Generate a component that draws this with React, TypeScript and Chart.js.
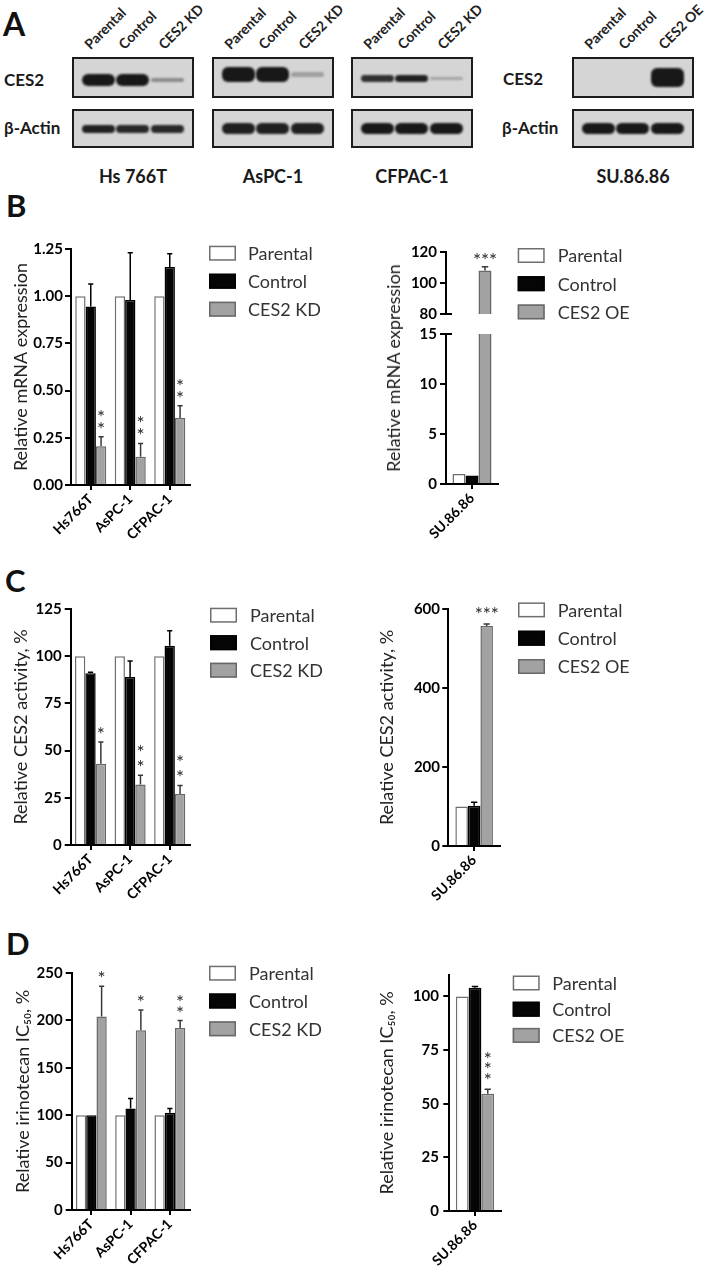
import React, { useEffect, useRef } from 'react';
import { Chart, registerables } from 'chart.js';

Chart.register(...registerables);

const FONT = "Lato, 'Open Sans', 'DejaVu Sans', sans-serif";

// ---------------- data ----------------
const kdLines = ['Hs766T', 'AsPC-1', 'CFPAC-1'];
const oeLine = ['SU.86.86'];
const kdSeriesNames = ['Parental', 'Control', 'CES2 KD'];
const oeSeriesNames = ['Parental', 'Control', 'CES2 OE'];

// B: relative mRNA expression
const mrnaKdParental = [1.0, 1.0, 1.0];
const mrnaKdControl = [0.945, 0.98, 1.155];
const mrnaKdControlErr = [0.12, 0.25, 0.07];
const mrnaKdKd = [0.205, 0.15, 0.355];
const mrnaKdKdErr = [0.05, 0.07, 0.065];
const mrnaKdSig = ['**', '**', '**'];
const mrnaKdTicks = [0, 0.25, 0.5, 0.75, 1.0, 1.25];

const mrnaOeParental = [1.0];
const mrnaOeControl = [0.85];
const mrnaOeOe = [108];
const mrnaOeOeErr = [2.5];
const mrnaOeSig = ['***'];
const mrnaOeLowTicks = [0, 5, 10, 15];
const mrnaOeHighTicks = [80, 100, 120];

// C: relative CES2 activity, %
const actKdParental = [100, 100, 100];
const actKdControl = [91, 89, 105.5];
const actKdControlErr = [0.5, 8.5, 8];
const actKdKd = [43, 32, 27];
const actKdKdErr = [11.5, 5, 4.5];
const actKdSig = ['*', '**', '**'];
const actKdTicks = [0, 25, 50, 75, 100, 125];

const actOeParental = [100];
const actOeControl = [102];
const actOeControlErr = [9];
const actOeOe = [557];
const actOeOeErr = [5];
const actOeSig = ['***'];
const actOeTicks = [0, 200, 400, 600];

// D: relative irinotecan IC50, %
const icKdParental = [100, 100, 100];
const icKdControl = [100, 107, 102.5];
const icKdControlErr = [0, 10.5, 4.5];
const icKdKd = [204, 189.5, 192];
const icKdKdErr = [32, 21.5, 8];
const icKdSig = ['*', '*', '**'];
const icKdTicks = [0, 50, 100, 150, 200, 250];

const icOeParental = [100];
const icOeControl = [104];
const icOeControlErr = [0.6];
const icOeOe = [54.7];
const icOeOeErr = [2];
const icOeSig = ['***'];
const icOeTicks = [0, 25, 50, 75, 100];

// A: western blots (band intensities per lane)
const blotLines = ['Hs 766T', 'AsPC-1', 'CFPAC-1', 'SU.86.86'];
const blotLanes = [kdSeriesNames, kdSeriesNames, kdSeriesNames, oeSeriesNames];
const ces2Band = [
  [1, 1, 0.3],
  [1, 1, 0.18],
  [0.85, 0.95, 0.15],
  [0, 0, 1],
];
const actinBand = [
  [0.95, 0.9, 0.9],
  [0.95, 0.95, 0.95],
  [1, 1, 1],
  [1, 1, 1],
];

// ---------------- styles / layout ----------------
const SERIES_STYLE = [
  { bg: '#ffffff', border: '#6f6f6f', err: '#555555' },
  { bg: '#050505', border: '#000000', err: '#000000' },
  { bg: '#a2a2a2', border: '#686868', err: '#3a3a3a' },
];

const annotPlugin = {
  id: 'annot',
  afterDatasetsDraw(chart: any, _args: any, opts: any) {
    const ctx = chart.ctx as CanvasRenderingContext2D;
    const ys = chart.scales.y;
    const ca = chart.chartArea;
    const star = opts.star;
    chart.data.datasets.forEach((ds: any, di: number) => {
      const meta = chart.getDatasetMeta(di);
      const errs: number[] = ds.errors || [];
      const sigs: string[] = ds.sig || [];
      meta.data.forEach((bar: any, j: number) => {
        const v = ds.data[j];
        if (v === null || v === undefined) return;
        const e = errs[j] || 0;
        const topVal = v + e;
        if (topVal > ys.max + 1e-9) return;
        const x = bar.x;
        const yv = ys.getPixelForValue(v);
        const ye = ys.getPixelForValue(topVal);
        if (e > 0) {
          ctx.save();
          ctx.strokeStyle = ds.errColor;
          ctx.lineWidth = 1.5;
          ctx.beginPath();
          ctx.moveTo(x, yv);
          ctx.lineTo(x, ye);
          const cw = bar.width * 0.25;
          ctx.moveTo(x - cw, ye);
          ctx.lineTo(x + cw, ye);
          ctx.stroke();
          ctx.restore();
        }
        const s = sigs[j];
        if (s && star) {
          const size = 19;
          ctx.save();
          ctx.fillStyle = '#2a2a2a';
          ctx.font = `${size}px ${FONT}`;
          ctx.textAlign = 'center';
          ctx.textBaseline = 'alphabetic';
          const lift = 0.56 * size;
          const n = s.length;
          for (let k = 0; k < n; k++) {
            if (star.mode === 'v') {
              const cy = ye - star.off - k * star.gap;
              ctx.fillText('*', x, cy + lift);
            } else {
              const cx = x + (k - (n - 1) / 2) * star.gap;
              ctx.fillText('*', cx, ye - star.off + lift);
            }
          }
          ctx.restore();
        }
      });
    });
    const bs = opts.breakStub;
    if (bs) {
      ctx.save();
      ctx.strokeStyle = '#000';
      ctx.lineWidth = 2;
      ctx.beginPath();
      const yy = bs === 'top' ? ca.top : ca.bottom;
      ctx.moveTo(ca.left - 1, yy);
      ctx.lineTo(ca.left + 6, yy);
      ctx.stroke();
      ctx.restore();
    }
    const lg = opts.legend;
    if (lg) {
      ctx.save();
      const bw = 27;
      const bh = 15;
      chart.data.datasets.forEach((ds: any, i: number) => {
        const bx = ca.right + lg.dx;
        const by = ca.top + lg.dy + i * lg.spacing;
        ctx.fillStyle = ds.backgroundColor;
        ctx.fillRect(bx, by, bw, bh);
        ctx.strokeStyle = ds.borderColor;
        ctx.lineWidth = 1.5;
        ctx.strokeRect(bx + 0.75, by + 0.75, bw - 1.5, bh - 1.5);
        ctx.fillStyle = '#333';
        ctx.font = `18px ${FONT}`;
        ctx.textAlign = 'left';
        ctx.textBaseline = 'middle';
        ctx.fillText(ds.label, bx + lg.textDx, by + bh / 2 + 1);
      });
      ctx.restore();
    }
  },
};
Chart.register(annotPlugin as any);

type Legend = { dx: number; dy: number; spacing: number; textDx: number };
type Star = { mode: 'v' | 'h'; off: number; gap: number };
type PanelCfg = {
  left: number; top: number; width: number; height: number;
  yW: number; xH: number; padTop: number; padRight: number; padBottom: number;
  labels: string[]; names: string[];
  vals: number[][]; errs: (number[] | null)[]; sigs: (string[] | null)[];
  yMin: number; yMax: number; yTicks: number[]; decimals: number;
  yTitle?: string; titlePad?: number; tickPad: number; catPct: number;
  showX: boolean; legend?: Legend; star?: Star; breakStub?: 'top' | 'bottom';
  hideBelowMin?: boolean; clipArea?: boolean;
};

function buildConfig(p: PanelCfg): any {
  const datasets = p.names.map((name, i) => {
    const st = SERIES_STYLE[i];
    const data = p.vals[i].map((v) => (p.hideBelowMin && v < p.yMin ? null : v));
    const ds: any = {
      label: name,
      data,
      backgroundColor: st.bg,
      borderColor: st.border,
      borderWidth: 1.5,
      categoryPercentage: p.catPct,
      barPercentage: 1,
      errors: p.errs[i] || [],
      sig: p.sigs[i] || [],
      errColor: st.err,
    };
    if (p.clipArea) ds.clip = 0;
    return ds;
  });
  const tickFont = { family: FONT, size: 15, weight: 'bold' as const };
  return {
    type: 'bar',
    data: { labels: p.labels, datasets },
    options: {
      animation: false,
      responsive: false,
      events: [],
      layout: { padding: { left: 0, top: p.padTop, right: p.padRight, bottom: p.padBottom } },
      plugins: {
        legend: { display: false },
        tooltip: { enabled: false },
        annot: { legend: p.legend || null, star: p.star || null, breakStub: p.breakStub || null },
      },
      scales: {
        x: {
          type: 'category',
          display: p.showX,
          offset: true,
          grid: { display: true, offset: false, drawOnChartArea: false, drawTicks: true, tickLength: 5, color: '#000', lineWidth: 2 },
          border: { display: true, color: '#000', width: 2 },
          ticks: { autoSkip: false, maxRotation: 45, minRotation: 45, padding: 1, color: '#000', font: { family: FONT, size: 14, weight: 'bold' } },
          afterFit: (s: any) => { s.height = p.xH; },
        },
        y: {
          type: 'linear',
          min: p.yMin,
          max: p.yMax,
          afterBuildTicks: (s: any) => { s.ticks = p.yTicks.map((v) => ({ value: v })); },
          ticks: { padding: p.tickPad, color: '#000', font: tickFont, callback: (v: any) => Number(v).toFixed(p.decimals) },
          grid: { display: true, drawOnChartArea: false, drawTicks: true, tickLength: 6, color: '#000', lineWidth: 2 },
          border: { display: true, color: '#000', width: 2 },
          title: p.yTitle
            ? { display: true, text: p.yTitle, color: '#222', font: { family: FONT, size: 18 }, padding: { top: p.titlePad || 0, bottom: 0 } }
            : { display: false },
          afterFit: (s: any) => { s.width = p.yW; },
        },
      },
    },
  };
}

function BarPanel({ cfg }: { cfg: PanelCfg }) {
  const ref = useRef<HTMLCanvasElement>(null);
  useEffect(() => {
    const chart = new Chart(ref.current as HTMLCanvasElement, buildConfig(cfg));
    return () => chart.destroy();
  }, []);
  return (
    <canvas
      ref={ref}
      width={cfg.width}
      height={cfg.height}
      style={{ position: 'absolute', left: cfg.left, top: cfg.top, width: cfg.width, height: cfg.height }}
    />
  );
}

const panels: PanelCfg[] = [
  // B left
  {
    left: 0, top: 229, width: 350, height: 326, yW: 71, xH: 70, padTop: 20, padRight: 160.5, padBottom: 0,
    labels: kdLines, names: kdSeriesNames,
    vals: [mrnaKdParental, mrnaKdControl, mrnaKdKd], errs: [null, mrnaKdControlErr, mrnaKdKdErr], sigs: [null, null, mrnaKdSig],
    yMin: 0, yMax: 1.25, yTicks: mrnaKdTicks, decimals: 2, yTitle: 'Relative mRNA expression', titlePad: 10.2, tickPad: 2,
    catPct: 0.785, showX: true, legend: { dx: 19.5, dy: -3.3, spacing: 28, textDx: 39 }, star: { mode: 'v', off: 11.7, gap: 12 },
  },
  // B right, upper segment
  {
    left: 360, top: 231.7, width: 347, height: 94, yW: 86, xH: 0, padTop: 20, padRight: 209, padBottom: 10,
    labels: oeLine, names: oeSeriesNames,
    vals: [mrnaOeParental, mrnaOeControl, mrnaOeOe], errs: [null, null, mrnaOeOeErr], sigs: [null, null, mrnaOeSig],
    yMin: 80, yMax: 120, yTicks: mrnaOeHighTicks, decimals: 0, tickPad: 3,
    catPct: 0.75, showX: false, legend: { dx: 19.7, dy: -4, spacing: 28.2, textDx: 40 }, star: { mode: 'h', off: 10.6, gap: 8 },
    breakStub: 'bottom', hideBelowMin: true,
  },
  // B right, lower segment
  {
    left: 360, top: 322, width: 347, height: 232, yW: 86, xH: 70, padTop: 12, padRight: 209, padBottom: 0,
    labels: oeLine, names: oeSeriesNames,
    vals: [mrnaOeParental, mrnaOeControl, mrnaOeOe], errs: [null, null, mrnaOeOeErr], sigs: [null, null, mrnaOeSig],
    yMin: 0, yMax: 15, yTicks: mrnaOeLowTicks, decimals: 0, tickPad: 3,
    catPct: 0.75, showX: true, star: { mode: 'h', off: 10.6, gap: 8 }, breakStub: 'top', clipArea: true,
  },
  // C left
  {
    left: 0, top: 589.3, width: 350, height: 326, yW: 70.7, xH: 70, padTop: 20, padRight: 160.5, padBottom: 0,
    labels: kdLines, names: kdSeriesNames,
    vals: [actKdParental, actKdControl, actKdKd], errs: [null, actKdControlErr, actKdKdErr], sigs: [null, null, actKdSig],
    yMin: 0, yMax: 125, yTicks: actKdTicks, decimals: 0, yTitle: 'Relative CES2 activity, %', titlePad: 10.2, tickPad: 3,
    catPct: 0.785, showX: true, legend: { dx: 20.5, dy: -1.3, spacing: 27.5, textDx: 40 }, star: { mode: 'v', off: 12, gap: 15 },
  },
  // C right
  {
    left: 360, top: 589.3, width: 347, height: 327, yW: 88.3, xH: 70, padTop: 20, padRight: 207, padBottom: 0,
    labels: oeLine, names: oeSeriesNames,
    vals: [actOeParental, actOeControl, actOeOe], errs: [null, actOeControlErr, actOeOeErr], sigs: [null, null, actOeSig],
    yMin: 0, yMax: 600, yTicks: actOeTicks, decimals: 0, yTitle: 'Relative CES2 activity, %', titlePad: 15.9, tickPad: 2.3,
    catPct: 0.727, showX: true, legend: { dx: 18, dy: -6.6, spacing: 28.3, textDx: 39.7 }, star: { mode: 'h', off: 14, gap: 8 },
  },
  // D left
  {
    left: 0, top: 953.3, width: 350, height: 323, yW: 71.7, xH: 66, padTop: 20, padRight: 160.5, padBottom: 0,
    labels: kdLines, names: kdSeriesNames,
    vals: [icKdParental, icKdControl, icKdKd], errs: [null, icKdControlErr, icKdKdErr], sigs: [null, null, icKdSig],
    yMin: 0, yMax: 250, yTicks: icKdTicks, decimals: 0, yTitle: 'Relative irinotecan IC₅₀, %', titlePad: 12.2, tickPad: 3,
    catPct: 0.785, showX: true, legend: { dx: 19.5, dy: -7.3, spacing: 27.8, textDx: 40 }, star: { mode: 'v', off: 11.5, gap: 11 },
  },
  // D right
  {
    left: 360, top: 954.5, width: 347, height: 322, yW: 89.3, xH: 66, padTop: 20, padRight: 206.3, padBottom: 0,
    labels: oeLine, names: oeSeriesNames,
    vals: [icOeParental, icOeControl, icOeOe], errs: [null, icOeControlErr, icOeOeErr], sigs: [null, null, icOeSig],
    yMin: 0, yMax: 110, yTicks: icOeTicks, decimals: 0, yTitle: 'Relative irinotecan IC₅₀, %', titlePad: 15.9, tickPad: 4.3,
    catPct: 0.745, showX: true, legend: { dx: 12, dy: 0.5, spacing: 26.2, textDx: 39.6 }, star: { mode: 'v', off: 13, gap: 10.5 },
  },
];

// blot layout
const blotBoxX = [72, 212, 351, 572];
const BLOT_W = 122;
const CES2_TOP = 57;
const CES2_H = 41;
const ACT_TOP = 109;
const ACT_H = 39;
const laneRel = [26, 60, 95];
const labelRel = [18.5, 52.5, 93];
const ces2BandY = [23, 17.5, 21.5, 20.5];
const ces2BandH = [12, 15, 8, 19];
const actBandY = [20, 19.5, 19, 19.5];
const actBandH = [9, 11, 11, 11];
const BAND_W = 33;

function Band({ cx, cy, h, a }: { cx: number; cy: number; h: number; a: number }) {
  if (a <= 0) return null;
  const hh = h * Math.max(0.35, a);
  const alpha = 0.12 + 0.85 * a;
  return (
    <div
      style={{
        position: 'absolute',
        left: cx - BAND_W / 2 - 2,
        top: cy - hh / 2 - 2,
        width: BAND_W,
        height: hh,
        borderRadius: Math.min(6, hh / 2),
        background: `rgba(18,18,18,${alpha})`,
        filter: 'blur(1.1px)',
      }}
    />
  );
}

const labelStyle: React.CSSProperties = {
  position: 'absolute',
  font: `bold 17px ${FONT}`,
  lineHeight: '20.4px',
  color: '#1a1a1a',
  whiteSpace: 'nowrap',
};

function Blots() {
  return (
    <>
      <div style={{ ...labelStyle, left: 4, top: 70.4 }}>CES2</div>
      <div style={{ ...labelStyle, left: 4, top: 118.4 }}>β-Actin</div>
      <div style={{ ...labelStyle, left: 503, top: 69.4 }}>CES2</div>
      <div style={{ ...labelStyle, left: 502, top: 118.4 }}>β-Actin</div>
      {blotLines.map((name, b) => {
        const x0 = blotBoxX[b];
        return (
          <React.Fragment key={b}>
            {blotLanes[b].map((lane, l) => (
              <div
                key={'lab' + l}
                style={{
                  position: 'absolute',
                  left: x0 + labelRel[l],
                  top: 51 - 13.8,
                  font: `bold 14px ${FONT}`,
                  lineHeight: '16.8px',
                  whiteSpace: 'nowrap',
                  transformOrigin: '0px 13.8px',
                  transform: 'rotate(-45deg)',
                  color: '#222',
                }}
              >
                {lane}
              </div>
            ))}
            <div
              style={{
                position: 'absolute', left: x0, top: CES2_TOP, width: BLOT_W, height: CES2_H,
                boxSizing: 'border-box', border: '2px solid #1c1c1c', background: '#d5d5d5', overflow: 'hidden',
              }}
            >
              {ces2Band[b].map((a, l) => (
                <Band key={l} cx={laneRel[l]} cy={ces2BandY[b]} h={ces2BandH[b]} a={a} />
              ))}
            </div>
            <div
              style={{
                position: 'absolute', left: x0, top: ACT_TOP, width: BLOT_W, height: ACT_H,
                boxSizing: 'border-box', border: '2px solid #1c1c1c', background: '#d5d5d5', overflow: 'hidden',
              }}
            >
              {actinBand[b].map((a, l) => (
                <Band key={l} cx={laneRel[l]} cy={actBandY[b]} h={actBandH[b]} a={a} />
              ))}
            </div>
            <div
              style={{
                ...labelStyle,
                font: `bold 18px ${FONT}`,
                lineHeight: '21.6px',
                left: x0 + BLOT_W / 2,
                top: 165.5,
                transform: 'translateX(-50%)',
              }}
            >
              {name}
            </div>
          </React.Fragment>
        );
      })}
    </>
  );
}

const letterStyle: React.CSSProperties = {
  position: 'absolute',
  font: `bold 31px ${FONT}`,
  lineHeight: '31px',
  color: '#111',
};

export default function App() {
  return (
    <div
      style={{
        position: 'absolute', left: 0, top: 0, width: 707, height: 1280, overflow: 'hidden',
        background: '#fff', fontFamily: FONT,
      }}
    >
      <div style={{ ...letterStyle, left: 3, top: 8, fontSize: 32 }}>A</div>
      <div style={{ ...letterStyle, left: 6, top: 190 }}>B</div>
      <div style={{ ...letterStyle, left: 5, top: 565 }}>C</div>
      <div style={{ ...letterStyle, left: 6, top: 928 }}>D</div>
      <Blots />
      {panels.map((p, i) => (
        <BarPanel key={i} cfg={p} />
      ))}
      <div
        style={{
          position: 'absolute', left: 393, top: 367.5, transform: 'translate(-50%, -50%) rotate(-90deg)',
          whiteSpace: 'nowrap', font: `18px ${FONT}`, color: '#222',
        }}
      >
        Relative mRNA expression
      </div>
    </div>
  );
}
